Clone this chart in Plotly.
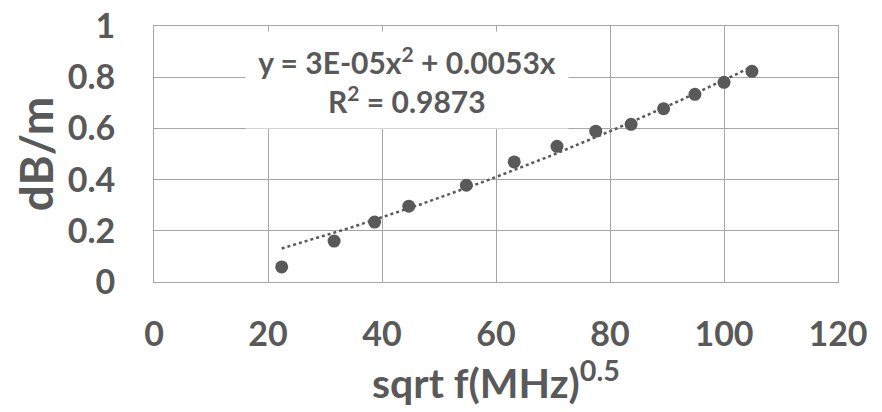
import numpy as np
import plotly.graph_objects as go

# data
x_vals = [22.4, 31.6, 38.7, 44.7, 54.8, 63.2, 70.7, 77.5, 83.7, 89.4, 94.9, 100.0, 104.9]
y_vals = [0.059, 0.160, 0.234, 0.296, 0.378, 0.469, 0.530, 0.589, 0.616, 0.677, 0.733, 0.780, 0.823]
x_ticks = [0, 20, 40, 60, 80, 100, 120]
y_ticks = [0, 0.2, 0.4, 0.6, 0.8, 1]
y_tick_text = ["0", "0.2", "0.4", "0.6", "0.8", "1"]
eq_text = "y = 3E-05x<sup>2</sup> + 0.0053x<br>R<sup>2</sup> = 0.9873"

# polynomial trendline (order 2, through origin), fitted to the data
xa = np.array(x_vals)
ya = np.array(y_vals)
A = np.vstack([xa**2, xa]).T
coef, *_ = np.linalg.lstsq(A, ya, rcond=None)
xt = np.linspace(xa.min(), xa.max(), 200)
yt = coef[0] * xt**2 + coef[1] * xt

GRAY = "#595959"
GRID = "#a6a6a6"
FONT = "Lato"

fig = go.Figure()
fig.add_trace(go.Scatter(x=xt, y=yt, mode="lines",
                         line=dict(color=GRAY, width=2.5, dash="dot"),
                         hoverinfo="skip", showlegend=False))
fig.add_trace(go.Scatter(x=x_vals, y=y_vals, mode="markers",
                         marker=dict(color=GRAY, size=13),
                         showlegend=False))

fig.add_annotation(x=44.4, y=0.788, xref="x", yref="y", text=eq_text,
                   showarrow=False, bgcolor="white", width=320, height=94,
                   font=dict(family=FONT, size=30, color=GRAY, weight="bold"),
                   align="center")

# page body has an 8px default margin, so the figure is sized/offset for it
fig.update_layout(
    width=874, height=404,
    margin=dict(l=146, r=44, t=18, b=130),
    paper_bgcolor="white", plot_bgcolor="white",
    font=dict(family=FONT, color=GRAY, weight="bold"),
)
fig.update_xaxes(range=[0, 120], tickvals=x_ticks, showgrid=True, gridcolor=GRID,
                 gridwidth=1, zeroline=False, showline=True, linecolor=GRID,
                 mirror=True, ticks="", ticklabelstandoff=22, automargin=False,
                 ticklabeloverflow="allow",
                 tickfont=dict(family=FONT, size=34, color=GRAY, weight="bold"),
                 title=dict(text="sqrt f(MHz)<sup>0.5</sup>", standoff=12,
                            font=dict(family=FONT, size=41, color=GRAY, weight="bold")))
fig.update_yaxes(range=[0, 1], tickvals=y_ticks, ticktext=y_tick_text, showgrid=True,
                 gridcolor=GRID, gridwidth=1, zeroline=False, showline=True,
                 linecolor=GRID, mirror=True, ticks="", ticklabelstandoff=31,
                 automargin=False, ticklabeloverflow="allow",
                 tickfont=dict(family=FONT, size=34, color=GRAY, weight="bold"),
                 title=dict(text="dB/m", standoff=8,
                            font=dict(family=FONT, size=46, color=GRAY, weight="bold")))

fig.write_html("out.html")
